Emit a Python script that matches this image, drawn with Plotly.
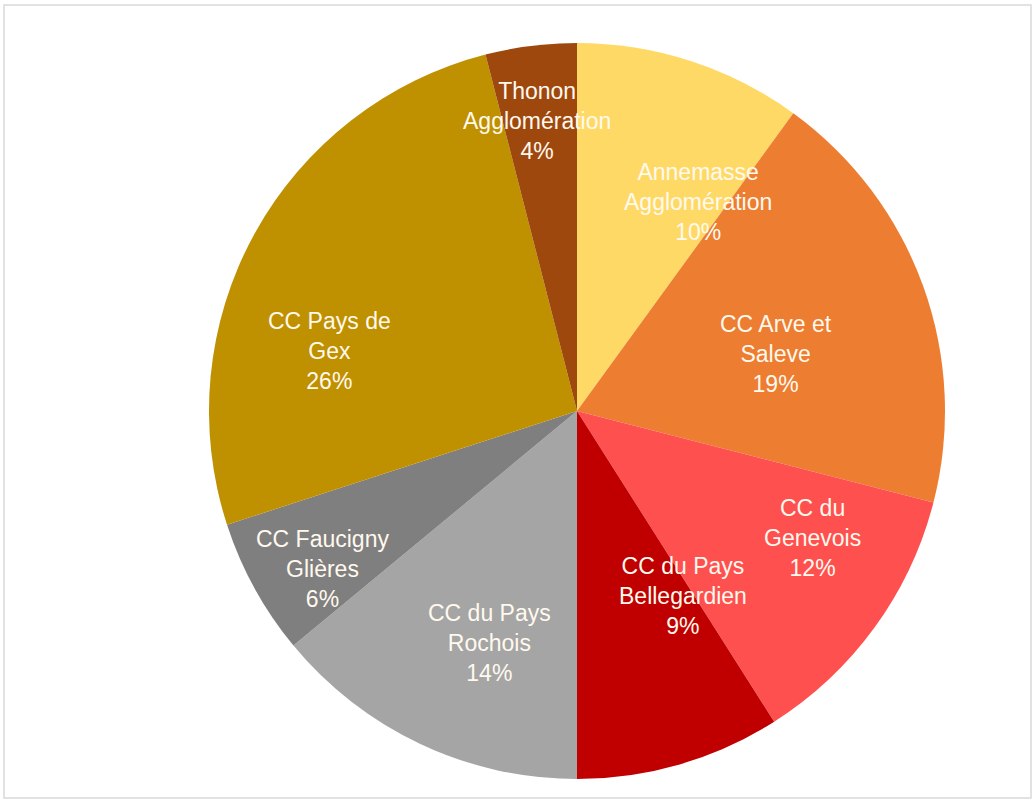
import math
import plotly.graph_objects as go

# Share of each intercommunality (percent), clockwise from 12 o'clock
names = [
    "Annemasse<br>Agglomération",
    "CC Arve et<br>Saleve",
    "CC du<br>Genevois",
    "CC du Pays<br>Bellegardien",
    "CC du Pays<br>Rochois",
    "CC Faucigny<br>Glières",
    "CC Pays de<br>Gex",
    "Thonon<br>Agglomération",
]
shares = [10, 19, 12, 9, 14, 6, 26, 4]
colors = ["#FFD966", "#ED7D31", "#FF5050", "#C00000",
          "#A5A5A5", "#7F7F7F", "#BF9000", "#9E480E"]

# Label placement: radial fraction of the radius, and angular nudge (deg)
# away from each slice's bisector
label_r = [0.655, 0.563, 0.726, 0.580, 0.673, 0.815, 0.691, 0.796]
label_nudge = [12.1, 3.8, -7.6, -13.6, -4.6, -3.0, -15.1, -0.7]

W, H = 1035, 800
cx, cy, R = 577, 411, 368
FONT = "Liberation Sans, Arial, sans-serif"

fig = go.Figure(go.Pie(
    labels=names,
    values=shares,
    sort=False,
    direction="clockwise",
    rotation=0,
    marker=dict(colors=colors, line=dict(width=0)),
    textinfo="none",
    domain=dict(x=[(cx - R) / W, (cx + R) / W],
                y=[(H - cy - R) / H, (H - cy + R) / H]),
    showlegend=False,
    hoverinfo="label+percent",
))

# Data labels, positioned from the slice angles
total = sum(shares)
annotations = []
cum = 0.0
for name, v, rf, nudge in zip(names, shares, label_r, label_nudge):
    mid = (cum + v / 2) / total * 360 + nudge
    cum += v
    px = cx + rf * R * math.sin(math.radians(mid))
    py = cy - rf * R * math.cos(math.radians(mid))
    annotations.append(dict(
        x=px / W, y=1 - py / H, xref="paper", yref="paper",
        text=f"{name}<br>{v}%", showarrow=False,
        xanchor="center", yanchor="middle", align="center",
        font=dict(family=FONT, size=23, color="#FFF9EE"),
    ))

fig.update_layout(
    width=W, height=H,
    margin=dict(l=0, r=0, t=0, b=0),
    paper_bgcolor="white",
    annotations=annotations,
    shapes=[dict(type="rect", xref="paper", yref="paper",
                 x0=4 / W, x1=1031 / W, y0=1 - 798 / H, y1=1 - 5 / H,
                 line=dict(color="#D9D9D9", width=1.5))],
)

fig.write_html("out.html")
